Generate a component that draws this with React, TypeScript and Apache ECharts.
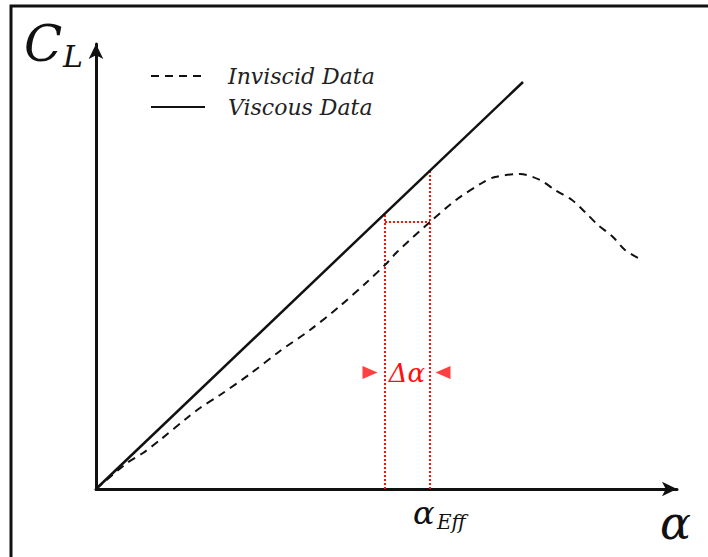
import React, { useEffect, useRef } from "react";
import * as echarts from "echarts";

// Data (arbitrary units: alpha, C_L)
const viscousAlpha = [0, 42.7];
const viscousCL = [0, 40.7];

const inviscidAlpha = [0, 3.1, 4.7, 6.4, 9.1, 10.4, 12.4, 15.4, 18.4, 21.4, 24.4, 27.1, 29.1, 30.1, 33.4, 36.0, 38.6, 39.9, 42.4, 44.4, 45.9, 47.6, 48.9, 50.2, 51.7, 52.9, 54.2];
const inviscidCL = [0, 2.6, 3.6, 4.9, 7.1, 8.1, 9.4, 11.5, 13.8, 15.9, 18.3, 20.7, 22.6, 23.7, 26.7, 28.9, 30.6, 31.2, 31.5, 30.9, 29.9, 28.9, 27.7, 26.4, 25.2, 23.9, 23.1];

// Construction lines
const alphaViscousAtCL = 28.9; // alpha where viscous reaches same C_L
const alphaEff = 33.4;
const clAtAlphaEff = 26.7; // inviscid C_L at alpha_eff
const clViscousAtLeft = 27.6;
const clViscousAtEff = 31.8;
const arrowLevel = 11.65;
const arrowLeftAlpha = 27.4;
const arrowRightAlpha = 34.7;

const xMax = 58.1;
const yMax = 44.5;

const seriesNames = ["Inviscid Data", "Viscous Data"];

export default function App() {
  const ref = useRef<HTMLDivElement>(null);
  useEffect(() => {
    if (!ref.current) return;
    const chart = echarts.init(ref.current, null, { renderer: "svg" });
    const serif = "DejaVu Serif";
    const red = "#ff1010";
    const option: any = {
      animation: false,
      backgroundColor: "#ffffff",
      grid: { left: 96, right: 31, top: 44, bottom: 68 },
      xAxis: {
        type: "value",
        min: 0,
        max: xMax,
        axisLine: { show: true, lineStyle: { color: "#111", width: 3 }, symbol: ["none", "arrow"], symbolSize: [11, 15] },
        axisTick: { show: false },
        axisLabel: { show: false },
        splitLine: { show: false },
      },
      yAxis: {
        type: "value",
        min: 0,
        max: yMax,
        axisLine: { show: true, lineStyle: { color: "#111", width: 3 }, symbol: ["none", "arrow"], symbolSize: [11, 15] },
        axisTick: { show: false },
        axisLabel: { show: false },
        splitLine: { show: false },
      },
      legend: {
        data: seriesNames,
        orient: "vertical",
        left: 145,
        top: 60,
        itemWidth: 54,
        itemHeight: 16,
        itemGap: 9,
        itemStyle: { opacity: 0 },
        textStyle: { fontFamily: serif, fontStyle: "italic", fontSize: 22, color: "#222", padding: [0, 0, 0, 18] },
      },
      series: [
        {
          name: seriesNames[0],
          type: "line",
          data: inviscidAlpha.map((a, i) => [a, inviscidCL[i]]),
          smooth: 0.3,
          symbol: "none",
          itemStyle: { color: "#111" },
          lineStyle: { color: "#111", width: 2, type: [8, 6] },
          z: 3,
        },
        {
          name: seriesNames[1],
          type: "line",
          data: viscousAlpha.map((a, i) => [a, viscousCL[i]]),
          symbol: "none",
          itemStyle: { color: "#111" },
          lineStyle: { color: "#111", width: 2.5 },
          z: 3,
        },
        {
          name: "left",
          type: "line",
          data: [[alphaViscousAtCL, 0], [alphaViscousAtCL, clViscousAtLeft]],
          symbol: "none",
          lineStyle: { color: red, width: 2, type: [2, 2] },
          z: 2,
        },
        {
          name: "right",
          type: "line",
          data: [[alphaEff, 0], [alphaEff, clViscousAtEff]],
          symbol: "none",
          lineStyle: { color: red, width: 2, type: [2, 2] },
          z: 2,
        },
        {
          name: "horiz",
          type: "line",
          data: [[alphaViscousAtCL, clAtAlphaEff], [alphaEff, clAtAlphaEff]],
          symbol: "none",
          lineStyle: { color: red, width: 2, type: [2, 2] },
          z: 2,
        },
        {
          name: "arrowL",
          type: "scatter",
          data: [[arrowLeftAlpha, arrowLevel]],
          symbol: "triangle",
          symbolSize: [13, 15],
          symbolRotate: -90,
          itemStyle: { color: red },
          z: 4,
        },
        {
          name: "arrowR",
          type: "scatter",
          data: [[arrowRightAlpha, arrowLevel]],
          symbol: "triangle",
          symbolSize: [13, 15],
          symbolRotate: 90,
          itemStyle: { color: red },
          z: 4,
        },
      ],
      graphic: [
        {
          type: "rect",
          shape: { x: 11, y: 6, width: 760, height: 620 },
          style: { fill: "none", stroke: "#111", lineWidth: 3 },
          silent: true,
        },
        {
          type: "text",
          x: 24,
          y: 19,
          style: { text: "C", fontFamily: serif, fontStyle: "italic", fontSize: 50, fill: "#111" },
        },
        {
          type: "text",
          x: 63,
          y: 41,
          style: { text: "L", fontFamily: serif, fontStyle: "italic", fontSize: 30, fill: "#111" },
        },
        {
          type: "text",
          x: 660,
          y: 500,
          style: { text: "α", fontFamily: serif, fontStyle: "italic", fontSize: 46, fill: "#111" },
        },
        {
          type: "text",
          x: 413,
          y: 497,
          style: { text: "α", fontFamily: serif, fontStyle: "italic", fontSize: 32, fill: "#111" },
        },
        {
          type: "text",
          x: 437,
          y: 512,
          style: { text: "Eff", fontFamily: serif, fontStyle: "italic", fontSize: 20, fill: "#111" },
        },
        {
          type: "text",
          x: 407,
          y: 373,
          style: { text: "Δα", fontFamily: serif, fontStyle: "italic", fontSize: 26, fill: red, textAlign: "center", textVerticalAlign: "middle" },
        },
      ],
    };
    chart.setOption(option);
    return () => chart.dispose();
  }, []);
  return (
    <div
      ref={ref}
      style={{ position: "fixed", left: 0, top: 0, width: 708, height: 557, background: "#fff" }}
    />
  );
}
